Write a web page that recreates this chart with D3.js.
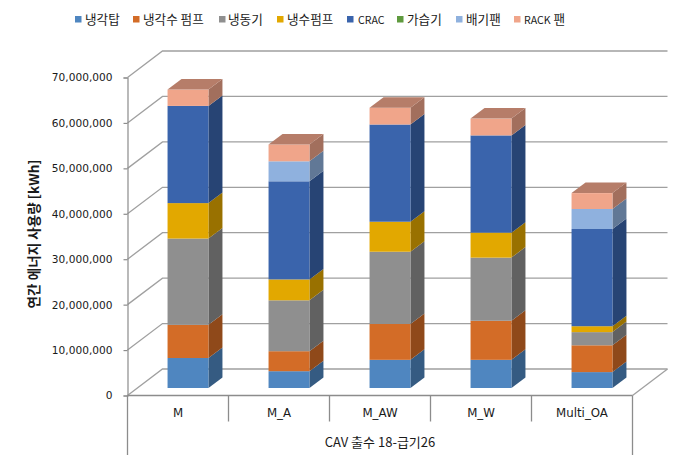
<!DOCTYPE html>
<html><head><meta charset="utf-8">
<script src="https://cdn.jsdelivr.net/npm/d3@7/dist/d3.min.js"></script>
<style>html,body{margin:0;padding:0;background:#fff}svg{display:block}text{fill:#1a1a1a}</style>
</head><body><div id="chart"></div>
<script>
const categories = ["M","M_A","M_AW","M_W","Multi_OA"];
const seriesNames = ["냉각탑","냉각수 펌프","냉동기","냉수펌프","CRAC","가습기","배기팬","RACK 팬"];
const seriesColors = ["#4f86c0","#d36c27","#8f8f8f","#e2a800","#3a64ac","#5f9a3e","#8fb1de","#f0a58a"];
const coolingTower = [6600000,3700000,6200000,6200000,3500000];
const condenserPump = [7300000,4400000,7900000,8600000,5900000];
const chiller = [19000000,11200000,15900000,13900000,2900000];
const chilledPump = [7800000,4600000,6600000,5500000,1300000];
const crac = [21400000,21600000,21400000,21400000,21400000];
const humidifier = [0,0,0,0,0];
const exhaustFan = [0,4400000,0,0,4400000];
const rackFan = [3600000,3700000,3700000,3700000,3500000];
const seriesValues = [coolingTower,condenserPump,chiller,chilledPump,crac,humidifier,exhaustFan,rackFan];
const tickValues = [0,10000000,20000000,30000000,40000000,50000000,60000000,70000000];
const yTitle = "연간 에너지 사용량 [kWh]";
const xTitle = "CAV 출수 18-급기26";

const W=691,H=463, x0=127.5,x1=632.5,
  backDx=35,backDy=-26.5,
  barDx=14,barDy=-10.5,
  floorLift=7.5, barShift=10,
  gridCol="#a0a0a0", axisCol="#8c8c8c",
  numFont="'DejaVu Sans',sans-serif", krFont="'Noto Sans CJK KR','DejaVu Sans',sans-serif";

const svg=d3.select("#chart").append("svg").attr("width",W).attr("height",H);
const x=d3.scaleBand().domain(categories).range([x0,x1]).paddingInner(0.595).paddingOuter(0.2975);
const y=d3.scaleLinear().domain([0,70000000]).range([395.5,77.5]);

const grid=svg.append("g").attr("fill","none").attr("stroke",gridCol).attr("stroke-width",1.3);
grid.selectAll("path").data(tickValues).join("path")
  .attr("d",d=>`M${x0},${y(d)}L${x0+backDx},${y(d)+backDy}L${x1+backDx},${y(d)+backDy}`);
grid.append("path").attr("d",`M${x1},${y(0)}L${x1+backDx},${y(0)+backDy}`);

const stack=d3.stack().keys(d3.range(seriesNames.length)).value((d,k)=>seriesValues[k][d]);
const layers=stack(d3.range(categories.length));
const yBar=v=>y(v)-floorLift;
const barsG=svg.append("g");
layers.forEach((layer,k)=>{
  const col=d3.color(seriesColors[k]);
  const side=col.darker(1.1).formatHex();
  layer.forEach((seg,i)=>{
    if(seg[1]===seg[0])return;
    const c=categories[i], l=x(c)+barShift, r=l+x.bandwidth(), t=yBar(seg[1]), b=yBar(seg[0]);
    const g=barsG.append("g");
    g.append("path").attr("fill",side).attr("d",`M${r},${b}L${r+barDx},${b+barDy}L${r+barDx},${t+barDy}L${r},${t}Z`);
    g.append("rect").attr("x",l).attr("y",t).attr("width",r-l).attr("height",b-t).attr("fill",seriesColors[k]);
    const total=d3.sum(seriesValues,s=>s[i]);
    if(seg[1]===total){
      g.append("path").attr("fill",col.darker(0.77).formatHex())
       .attr("d",`M${l},${t}L${l+barDx},${t+barDy}L${r+barDx},${t+barDy}L${r},${t}Z`);
    }
  });
});

const yAxis=d3.axisLeft(y).tickValues(tickValues).tickSize(4).tickPadding(11)
  .tickFormat(d=>d3.format(",")(d));
const ya=svg.append("g").attr("transform",`translate(${x0},0)`).call(yAxis);
ya.selectAll("path.domain").attr("stroke",axisCol).attr("stroke-width",1.2);
ya.selectAll("line").attr("stroke",axisCol).attr("stroke-width",1.2);
ya.selectAll("text").attr("font-family",numFont).attr("font-size",10.6).attr("fill","#1a1a1a");

const ax=svg.append("g").attr("stroke",axisCol).attr("stroke-width",1.3).attr("fill","none");
ax.append("line").attr("x1",x0).attr("x2",x1).attr("y1",y(0)).attr("y2",y(0));
ax.append("line").attr("x1",x0).attr("x2",x0).attr("y1",y(0)).attr("y2",455);
ax.append("line").attr("x1",x1).attr("x2",x1).attr("y1",y(0)).attr("y2",455);
const step=x.step();
ax.selectAll(".sep").data(categories.slice(1)).join("line").attr("class","sep")
  .attr("x1",d=>x(d)+x.bandwidth()/2-step/2).attr("x2",d=>x(d)+x.bandwidth()/2-step/2)
  .attr("y1",y(0)).attr("y2",421.5);
svg.append("g").selectAll("text").data(categories).join("text")
  .attr("x",d=>x(d)+x.bandwidth()/2).attr("y",417).attr("text-anchor","middle")
  .attr("font-family",numFont).attr("font-size",11.8).text(d=>d);
svg.append("text").attr("x",380).attr("y",447).attr("text-anchor","middle")
  .attr("font-family",krFont).attr("font-size",13).text(xTitle);

svg.append("text").attr("transform","translate(39,234) rotate(-90)").attr("text-anchor","middle")
  .attr("font-family",krFont).attr("font-weight",700).attr("font-size",13.6).text(yTitle);

const legendSq=[75,133,219,277,347,397,456,514];
const legendTx=[85,143,228,287,358,407,466,524];
const lg=svg.append("g");
seriesNames.forEach((n,i)=>{
  lg.append("rect").attr("x",legendSq[i]).attr("y",16).attr("width",6.5).attr("height",6.5).attr("fill",seriesColors[i]);
  const t=lg.append("text").attr("x",legendTx[i]).attr("y",24).attr("font-family",krFont).attr("font-size",12.6);
  n.split(/(?<=[A-Z])(?=\s)/).forEach(part=>{
    t.append("tspan").attr("font-size",/[A-Z]/.test(part)?10.6:12.6).text(part);
  });
});
</script></body></html>
